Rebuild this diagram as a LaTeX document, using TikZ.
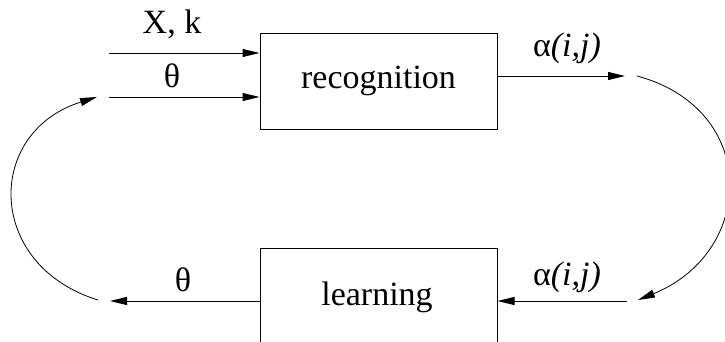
\documentclass[tikz,border=0pt]{standalone}
\usepackage{fontspec}
\setmainfont{Liberation Serif}
\usetikzlibrary{arrows.meta}
\begin{document}
\begin{tikzpicture}[x=1pt,y=-1pt, line width=1pt,
 box/.style={draw, minimum width=237pt, minimum height=96pt, inner sep=0pt, font=\fontsize{34}{40}\selectfont},
 lbl/.style={inner sep=0pt, anchor=base, font=\fontsize{34}{40}\selectfont},
 arr/.style={-{Triangle[length=17pt,width=8pt]}}]
\clip (0,0) rectangle (725,341);
\node[box] (rec) at (378.5,81) {recognition};
\node[box] (learn) at (378.5,296) {};
\node[lbl] (learntxt) at (377,305) {learning};
\coordinate (in1) at (109,53);
\coordinate (in2) at (109,97);
\coordinate (out1) at (625,76);
\coordinate (arcR) at (637,76);
\coordinate (arcRend) at (638,300);
\coordinate (in3) at (627,301);
\coordinate (out3) at (110,301);
\coordinate (arcL) at (98,300);
\coordinate (arcLend) at (97,97);
\draw[arr] (in1) -- (in1 -| rec.west);
\draw[arr] (in2) -- (in2 -| rec.west);
\draw[arr] (rec.east |- out1) -- (out1);
\draw[arr, line width=0.8pt] (arcR) .. controls (760,109) and (756,252) .. (arcRend);
\draw[arr] (in3) -- (in3 -| learn.east);
\draw[arr] (learn.west |- out3) -- (out3);
\draw[arr, line width=0.8pt] (arcL) .. controls (-15,265) and (-15,132) .. (arcLend);
\node[lbl] (xk) at (172,33) {X, k};
\node[lbl] (th1) at (172,87) {θ};
\node[lbl] (a1) at (567,56) {α\textit{(i,j)}};
\node[lbl] (a2) at (567,285) {α\textit{(i,j)}};
\node[lbl] (th2) at (183,291) {θ};
\end{tikzpicture}
\end{document}
